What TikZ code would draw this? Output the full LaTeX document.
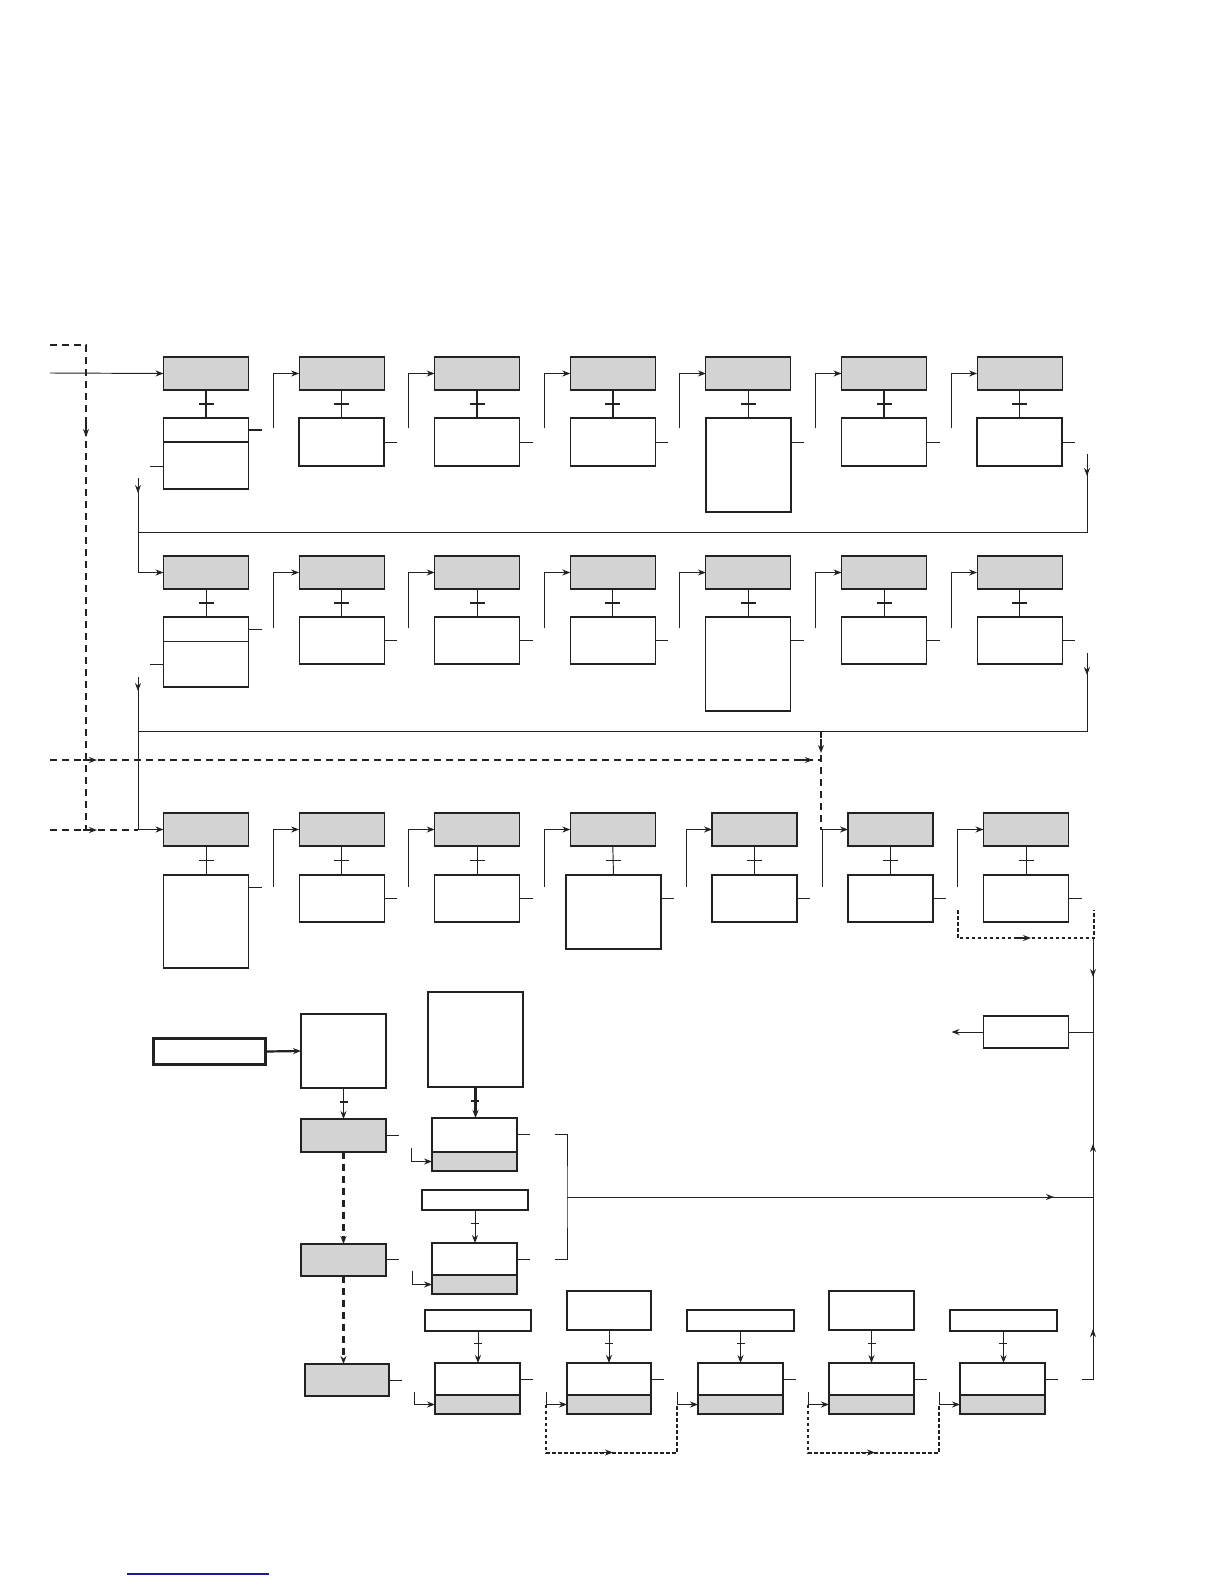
\documentclass[tikz,border=0pt]{standalone}
\usetikzlibrary{arrows.meta,calc}
\definecolor{ink}{HTML}{222222}
\definecolor{boxgray}{HTML}{D3D3D3}
\definecolor{linkblue}{HTML}{1A1A9A}
\tikzset{
  box/.style={draw=ink,line width=1.1pt,anchor=north west,inner sep=0pt,outer sep=0pt},
  gbox/.style={box,fill=boxgray},
  ln/.style={draw=ink,line width=0.95pt},
  arr/.style={ln,-{Stealth[length=8pt,width=6pt]}},
  tk/.style={ln,line width=1.2pt},
  tkthick/.style={ln,line width=2.2pt},
  dsh/.style={ln,line width=2.1pt,dash pattern=on 7pt off 5pt},
  dotln/.style={ln,line width=2pt,dash pattern=on 3.5pt off 2.5pt},
}
\newcommand\tkm[3]{\draw[#3] ($(#1.south)!0.5!(#2.north)$) +(-7.5,0) -- +(7.5,0);}
\newcommand\stm[4]{\draw[#4] ($(#1.south)!#3!(#2.north)$) +(-4,0) -- +(4,0);}
\begin{document}
\begin{tikzpicture}[x=1pt,y=-1pt]
\fill[white] (0,0) rectangle (1224,1584);
\useasboundingbox (0,0) rectangle (1224,1584);

% ---------------- Row 1 ----------------
\node[gbox,minimum width=85pt,minimum height=33pt] (g11) at (163.5,357) {};
\node[box,minimum width=85pt,minimum height=71pt] (w11) at (163.5,418) {};
\draw[ln,line width=2pt] (g11.south) -- (w11.north);
\tkm{g11}{w11}{tkthick}
\draw[ln,line width=1.6pt] ($(w11.north west)+(0,24)$) -- ($(w11.north east)+(0,24)$);
\draw[ln,line width=2pt] ($(w11.north east)+(0,12)$) -- ++(13,0);
\draw[ln] ($(w11.north west)+(0,48)$) -- ++(-14,0);
\foreach \i/\x/\h in {2/299.1/48,3/434.7/48,4/570.3/48,5/705.9/94,6/841.5/48,7/977.1/48}{
  \node[gbox,minimum width=85pt,minimum height=33pt] (g1\i) at (\x,357) {};
  \node[box,line width=1.4pt,minimum width=85pt,minimum height=\h pt] (w1\i) at (\x,418) {};
  \draw[ln,line width=1.6pt] (g1\i.south) -- (w1\i.north);
  \tkm{g1\i}{w1\i}{tkthick}
  \draw[ln] ($(w1\i.north east)+(0,24)$) -- ++(13,0);
  \draw[arr] ($(w1\i.north west)+(-26,10)$) |- (g1\i.west);
}

% ---------------- Row 2 ----------------
\node[gbox,minimum width=85pt,minimum height=33pt] (g21) at (163.5,556) {};
\node[box,minimum width=85pt,minimum height=70pt] (w21) at (163.5,617) {};
\draw[ln] (g21.south) -- (w21.north);
\tkm{g21}{w21}{tk}
\draw[ln] ($(w21.north west)+(0,24)$) -- ($(w21.north east)+(0,24)$);
\draw[ln] ($(w21.north east)+(0,12)$) -- ++(13,0);
\draw[ln] ($(w21.north west)+(0,47)$) -- ++(-14,0);
\foreach \i/\x/\h in {2/299.1/47,3/434.7/47,4/570.3/47,5/705.9/94,6/841.5/47,7/977.1/47}{
  \node[gbox,minimum width=85pt,minimum height=33pt] (g2\i) at (\x,556) {};
  \node[box,minimum width=85pt,minimum height=\h pt] (w2\i) at (\x,617) {};
  \draw[ln] (g2\i.south) -- (w2\i.north);
  \tkm{g2\i}{w2\i}{tk}
  \draw[ln] ($(w2\i.north east)+(0,23)$) -- ++(13,0);
  \draw[arr] ($(w2\i.north west)+(-26,11)$) |- (g2\i.west);
}

% ---------------- Row 3 ----------------
\node[gbox,minimum width=85pt,minimum height=33pt] (g31) at (163.5,813) {};
\node[box,minimum width=85pt,minimum height=93pt] (w31) at (163.5,875) {};
\draw[ln] (g31.south) -- (w31.north);
\tkm{g31}{w31}{tk}
\draw[ln] ($(w31.north east)+(0,12)$) -- ++(13,0);
\foreach \i/\x in {2/299.1,3/434.7,5/712,6/848,7/983.5}{
  \node[gbox,minimum width=85pt,minimum height=33pt] (g3\i) at (\x,813) {};
  \node[box,minimum width=85pt,minimum height=47pt] (w3\i) at (\x,875) {};
  \draw[ln] (g3\i.south) -- (w3\i.north);
  \tkm{g3\i}{w3\i}{tk}
  \draw[ln] ($(w3\i.north east)+(0,23)$) -- ++(13,0);
  \draw[arr] ($(w3\i.north west)+(-26,12)$) |- (g3\i.west);
}
\node[gbox,minimum width=85pt,minimum height=33pt] (g34) at (570.3,813) {};
\node[box,minimum width=95pt,minimum height=74pt] (w34) at (566,875) {};
\draw[ln,line width=2pt] (w34.south west) -- (w34.south east);
\draw[ln] (g34.south) -- (w34.north);
\tkm{g34}{w34}{tk}
\draw[ln] ($(w34.north east)+(0,23)$) -- ++(13,0);
\draw[arr] ($(g34.south west)+(-26,41)$) |- (g34.west);

% ---------------- Left flow lines ----------------
\coordinate (tl0) at (50,345);
\coordinate (tl1) at (86,345);
\coordinate (tl2) at (86,830);
\draw[dsh] (tl0) -- (tl1) -- (tl2);
\draw[arr,line width=1.2pt] (86,424) -- (86,437);
\coordinate (in1) at (50,373);
\draw[arr] (in1) -- (g11.west);

\coordinate (r1a) at (1087,454);
\coordinate (l1a) at (138,478);
\draw[ln] (r1a) |- (138,532);
\draw[arr] (r1a) -- (1087,476);
\draw[arr] (l1a) |- (g21.west);
\draw[arr] (l1a) -- (138,493);

\coordinate (r2a) at (1087,653);
\coordinate (l2a) at (138,677);
\draw[ln] (r2a) |- (138,731);
\draw[arr] (r2a) -- (1087,675);
\draw[arr] (l2a) |- (g31.west);
\draw[arr] (l2a) -- (138,691);

\coordinate (dh0) at (50,760);
\coordinate (dh1) at (821,760);
\draw[dsh] (dh0) -- (dh1);
\draw[arr,line width=1.2pt] (83,760) -- (97,760);
\draw[arr,line width=1.2pt] (799,760) -- (813,760);
\coordinate (dv0) at (821,731);
\coordinate (dv1) at (821,830);
\draw[dsh] (dv0) -- (dv1);
\draw[arr,line width=1.2pt] (821,739) -- (821,753);
\coordinate (dl0) at (50,830);
\draw[dsh] (dl0) -- (138,830);
\draw[arr,line width=1.2pt] (83,830) -- (97,830);

% ---------------- Right side ----------------
\coordinate (dt0) at ($(w37.north west)+(-26,35)$);
\coordinate (dt1) at (1094,910);
\draw[dotln] (dt0) |- (1094,938) -- (dt1);
\draw[arr,line width=1.2pt] (1017,938) -- (1031,938);
\coordinate (rv0) at (1093,938);
\coordinate (rv1) at (1093,1379);
\coordinate (rv2) at (1082,1379);
\draw[ln] (rv0) -- (rv1) -- (rv2);
\draw[arr] (1093,962) -- (1093,977);
\draw[arr] (1093,1158) -- (1093,1144);
\draw[arr] (1093,1343) -- (1093,1329);
\node[box,minimum width=85pt,minimum height=32pt] (R) at (983.5,1016) {};
\draw[ln] (R.east) -- (R.east -| rv0);
\draw[arr] (R.west) -- ++(-32,0);

% ---------------- Lower left block ----------------
\node[box,line width=3pt,minimum width=112pt,minimum height=26pt] (T) at (153.5,1038.5) {};
\node[box,minimum width=85pt,minimum height=74pt] (A) at (301,1014) {};
\draw[arr,line width=2.2pt] (T.east) -- (A.west);
\node[gbox,minimum width=85pt,minimum height=33pt] (B) at (301,1119) {};
\draw[ln,line width=2pt] (B.south west) -- (B.south east);
\draw[arr] (A.south) -- (B.north);
\stm{A}{B}{0.45}{tk}
\draw[ln] ($(B.north east)+(0,16)$) -- ++(13,0);
\node[gbox,minimum width=85pt,minimum height=32pt] (C) at (301,1244) {};
\draw[ln] ($(C.north east)+(0,15)$) -- ++(13,0);
\draw[dsh,-{Stealth[length=8pt,width=6pt]}] (B.south) -- (C.north);
\node[gbox,minimum width=84pt,minimum height=32pt] (H) at (305,1364) {};
\draw[ln,line width=2pt] (H.north west) -- (H.south west);
\draw[ln] (H.east) -- ++(13,0);
\draw[dsh,-{Stealth[length=8pt,width=6pt]}] (C.south) -- (C.south |- H.north);

\node[box,minimum width=95pt,minimum height=95pt] (D) at (428,992) {};
\node[box,minimum width=85pt,minimum height=34pt] (Et) at (432,1118) {};
\node[gbox,minimum width=85pt,minimum height=19pt] (Eb) at (432,1152) {};
\draw[ln,line width=2pt] (Et.north west) -- (Eb.south west);
\draw[ln,line width=1.8pt] (Eb.north west) -- (Eb.north east);
\draw[arr,line width=2.2pt] (D.south) -- (D.south |- Et.north);
\stm{D}{Et}{0.45}{tk}
\draw[arr] ($(Eb.west)+(-21,-14)$) |- (Eb.west);
\draw[ln] ($(Et.north east)+(0,16)$) -- ++(13,0);

\node[box,minimum width=106pt,minimum height=20pt] (F) at (422,1190) {};
\node[box,minimum width=85pt,minimum height=32pt] (Gt) at (432,1243) {};
\node[gbox,minimum width=85pt,minimum height=19pt] (Gb) at (432,1275) {};
\draw[arr] (F.south) -- (F.south |- Gt.north);
\stm{F}{Gt}{0.4}{tk}
\draw[arr] ($(Gb.west)+(-20,-14)$) |- (Gb.west);
\draw[ln] ($(Gt.north east)+(0,16)$) -- ++(13,0);

% bracket
\coordinate (bk1) at (555,1134);
\coordinate (bk2) at (555,1259);
\coordinate (bkm) at (567,1197);
\draw[ln] (bk1) -| (bkm) |- (bk2);
\draw[ln] (bkm) -- (bkm -| rv0);
\draw[arr] (1039,1197) -- (1054,1197);

% ---------------- Bottom row ----------------
\node[box,minimum width=106pt,minimum height=21pt] (F2) at (425,1310) {};
\node[box,minimum width=84pt,minimum height=39pt] (J) at (567,1291) {};
\node[box,minimum width=107pt,minimum height=21pt] (L) at (687,1310) {};
\node[box,minimum width=85pt,minimum height=39pt] (N) at (829,1291) {};
\node[box,minimum width=107pt,minimum height=21pt] (P) at (950,1310) {};
\foreach \n/\t/\x/\w in {I/F2/435/85,K/J/567/84,M/L/698/85,O/N/829/85,Q/P/960/85}{
  \node[box,minimum width=\w pt,minimum height=32pt] (\n t) at (\x,1363) {};
  \node[gbox,minimum width=\w pt,minimum height=19pt] (\n b) at (\x,1395) {};
  \draw[ln,line width=1.8pt] (\n b.south west) -- (\n b.south east);
  \draw[arr] (\t.south) -- (\t.south |- \n t.north);
  \stm{\t}{\n t}{0.4}{tk}
  \draw[arr] ($(\n b.west)+(-21,-13)$) |- (\n b.west);
  \draw[ln] (\n t.east) -- ++(13,0);
}
\draw[dotln] ($(Kb.west)+(-21,0)$) -- ++(0,48) -| ($(Mb.west)+(-21,0)$);
\draw[arr,line width=1.2pt] (599,1452.5) -- (613,1452.5);
\draw[dotln] ($(Ob.west)+(-21,0)$) -- ++(0,48) -| ($(Qb.west)+(-21,0)$);
\draw[arr,line width=1.2pt] (861,1452.5) -- (875,1452.5);

% link underline
\coordinate (u0) at (127,1574);
\coordinate (u1) at (269,1574);
\draw[linkblue,line width=1.2pt] (u0) -- (u1);
\end{tikzpicture}
\end{document}
